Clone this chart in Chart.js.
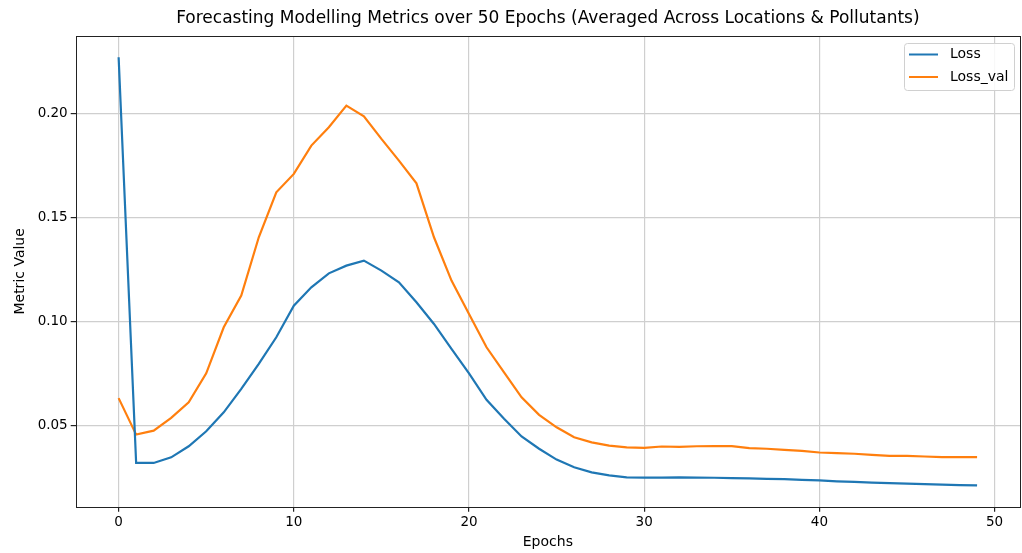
<!DOCTYPE html>
<html>
<head>
<meta charset="utf-8">
<script src="https://cdn.jsdelivr.net/npm/chart.js@4/dist/chart.umd.min.js"></script>
<style>
  html, body { margin: 0; padding: 0; background: #fff; }
  #wrap { width: 1022px; height: 553px; }
</style>
</head>
<body>
<div id="wrap"><canvas id="c" width="1022" height="553"></canvas></div>
<script>
// Training history, averaged across locations and pollutants
const epochs = Array.from({ length: 50 }, (_, i) => i);
const loss = [
  0.2269, 0.0322, 0.0322, 0.0349, 0.0402, 0.0474, 0.0565, 0.0677, 0.0797, 0.0925,
  0.1077, 0.1165, 0.1232, 0.1269, 0.1293, 0.1245, 0.1189, 0.1093, 0.0989, 0.0869,
  0.0752, 0.0625, 0.0534, 0.0449, 0.0390, 0.0338, 0.0301, 0.0277, 0.0262, 0.0253,
  0.0252, 0.0252, 0.0253, 0.0252, 0.0251, 0.0249, 0.0248, 0.0246, 0.0244, 0.0241,
  0.0238, 0.0234, 0.0231, 0.0228, 0.0225, 0.0223, 0.0220, 0.0218, 0.0216, 0.0214
];
const lossVal = [
  0.0633, 0.0458, 0.0477, 0.0538, 0.0613, 0.0752, 0.0973, 0.1125, 0.1405, 0.1621,
  0.1709, 0.1845, 0.1933, 0.2037, 0.1986, 0.1877, 0.1773, 0.1664, 0.1405, 0.1197,
  0.1037, 0.0877, 0.0757, 0.0637, 0.0553, 0.0493, 0.0445, 0.0421, 0.0405, 0.0397,
  0.0394, 0.0401, 0.0399, 0.0402, 0.0403, 0.0403, 0.0393, 0.0390, 0.0385, 0.0380,
  0.0372, 0.0369, 0.0366, 0.0361, 0.0356, 0.0356, 0.0353, 0.0350, 0.0350, 0.0350
];
const xTicks = [0, 10, 20, 30, 40, 50];
const yTicks = [0.05, 0.10, 0.15, 0.20];

const FONT = "'DejaVu Sans', sans-serif";
const BLUE = '#1f77b4';
const ORANGE = '#ff7f0e';

function pairs(ys) { return ys.map((y, i) => ({ x: epochs[i], y })); }

// Axes frame drawn on all four sides
const frame = {
  id: 'frame',
  afterDraw(chart) {
    const { ctx, chartArea: a } = chart;
    ctx.save();
    ctx.strokeStyle = '#222';
    ctx.lineWidth = 1;
    ctx.strokeRect(Math.round(a.left) + 0.5, Math.round(a.top) + 0.5,
                   Math.round(a.right - a.left), Math.round(a.bottom - a.top));
    ctx.restore();
  }
};

// Legend box in the upper right corner of the plot
const cornerLegend = {
  id: 'cornerLegend',
  afterDraw(chart) {
    const { ctx, chartArea: a } = chart;
    const w = 110, h = 47;
    const x = a.right - 6 - w, y = a.top + 7;
    ctx.save();
    ctx.fillStyle = 'rgba(255,255,255,0.85)';
    ctx.strokeStyle = '#d0d0d0';
    ctx.lineWidth = 1;
    ctx.beginPath();
    ctx.roundRect(x + 0.5, y + 0.5, w, h, 3);
    ctx.fill();
    ctx.stroke();
    ctx.font = '14px ' + FONT;
    ctx.textBaseline = 'middle';
    chart.data.datasets.forEach((ds, i) => {
      const ly = y + 11.5 + i * 22.5;
      ctx.strokeStyle = ds.borderColor;
      ctx.lineWidth = 2;
      ctx.beginPath();
      ctx.moveTo(x + 5, ly);
      ctx.lineTo(x + 34, ly);
      ctx.stroke();
      ctx.fillStyle = '#000';
      ctx.fillText(ds.label, x + 46, ly);
    });
    ctx.restore();
  }
};

new Chart(document.getElementById('c'), {
  type: 'line',
  data: {
    datasets: [
      { label: 'Loss', data: pairs(loss), borderColor: BLUE, backgroundColor: BLUE },
      { label: 'Loss_val', data: pairs(lossVal), borderColor: ORANGE, backgroundColor: ORANGE }
    ]
  },
  options: {
    responsive: false,
    animation: false,
    devicePixelRatio: 1,
    layout: { padding: { left: 0, right: 2, top: 0, bottom: 0 } },
    elements: {
      line: { borderWidth: 2.2, tension: 0 },
      point: { radius: 0, hoverRadius: 0 }
    },
    plugins: {
      legend: { display: false },
      tooltip: { enabled: false },
      title: {
        display: true,
        fullSize: false,
        text: 'Forecasting Modelling Metrics over 50 Epochs (Averaged Across Locations & Pollutants)',
        color: '#000',
        font: { family: FONT, size: 17, weight: 'normal' },
        padding: { top: 8.5, bottom: 7.1 }
      }
    },
    scales: {
      x: {
        type: 'linear',
        min: -2.45,
        max: 51.45,
        afterBuildTicks(s) { s.ticks = xTicks.map(v => ({ value: v })); },
        afterFit(s) { s.height = 46.3; },
        ticks: {
          color: '#000',
          font: { family: FONT, size: 13.5 },
          padding: 3,
          maxRotation: 0,
          callback: v => String(v)
        },
        grid: { color: '#cfcfcf', lineWidth: 1.2, tickColor: '#222', tickLength: 5, drawTicks: true },
        border: { display: false },
        title: {
          display: true,
          text: 'Epochs',
          color: '#000',
          font: { family: FONT, size: 14 },
          padding: { top: 0, bottom: 2 }
        }
      },
      y: {
        type: 'linear',
        min: 0.0112,
        max: 0.2371,
        afterBuildTicks(s) { s.ticks = yTicks.map(v => ({ value: v })); },
        afterFit(s) { s.width = 75.7; },
        ticks: {
          color: '#000',
          font: { family: FONT, size: 13.5 },
          padding: 3,
          callback: v => v.toFixed(2)
        },
        grid: { color: '#cfcfcf', lineWidth: 1.2, tickColor: '#222', tickLength: 5, drawTicks: true },
        border: { display: false },
        title: {
          display: true,
          text: 'Metric Value',
          color: '#000',
          font: { family: FONT, size: 14 },
          padding: { top: 12, bottom: 0 }
        }
      }
    }
  },
  plugins: [frame, cornerLegend]
});
</script>
</body>
</html>
